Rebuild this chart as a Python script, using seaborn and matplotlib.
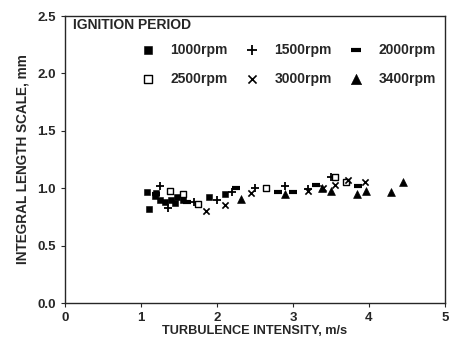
import pandas as pd
import matplotlib.pyplot as plt
import seaborn as sns

# Integral length scale vs turbulence intensity, ignition period
rpm_1000_x = [1.08, 1.10, 1.18, 1.25, 1.32, 1.40, 1.48, 1.55, 1.90, 2.10, 1.20, 1.45]
rpm_1000_y = [0.97, 0.82, 0.93, 0.90, 0.88, 0.90, 0.92, 0.90, 0.92, 0.95, 0.96, 0.87]
rpm_1500_x = [1.25, 1.35, 1.70, 2.00, 2.20, 2.50, 2.90, 3.50, 3.20]
rpm_1500_y = [1.02, 0.83, 0.88, 0.90, 0.97, 1.00, 1.02, 1.10, 0.99]
rpm_2000_x = [1.20, 1.60, 2.25, 2.80, 3.00, 3.30, 3.85]
rpm_2000_y = [0.95, 0.88, 1.00, 0.97, 0.97, 1.03, 1.02]
rpm_2500_x = [1.38, 1.55, 1.75, 2.65, 3.55, 3.70]
rpm_2500_y = [0.98, 0.95, 0.86, 1.00, 1.10, 1.05]
rpm_3000_x = [1.85, 2.10, 2.45, 3.20, 3.40, 3.55, 3.72, 3.95]
rpm_3000_y = [0.80, 0.85, 0.96, 0.98, 1.00, 1.03, 1.07, 1.05]
rpm_3400_x = [2.31, 2.90, 3.38, 3.50, 3.84, 3.96, 4.29, 4.45]
rpm_3400_y = [0.91, 0.95, 1.00, 0.98, 0.95, 0.98, 0.97, 1.05]

labels = ["1000rpm", "1500rpm", "2000rpm", "2500rpm", "3000rpm", "3400rpm"]
series = [(rpm_1000_x, rpm_1000_y), (rpm_1500_x, rpm_1500_y), (rpm_2000_x, rpm_2000_y),
          (rpm_2500_x, rpm_2500_y), (rpm_3000_x, rpm_3000_y), (rpm_3400_x, rpm_3400_y)]

sns.set_style("ticks")
plt.rcParams["font.family"] = ["Liberation Sans", "DejaVu Sans"]
plt.rcParams["font.weight"] = "bold"

# marker style per speed
styles = {
    "1000rpm": dict(marker="s", s=24, color="black", edgecolor="black"),
    "1500rpm": dict(marker="+", s=26, color="black", linewidth=1.3),
    "2000rpm": dict(marker="_", s=26, color="black", linewidth=3),
    "2500rpm": dict(marker="s", s=24, facecolor="white", edgecolor="black", linewidth=1),
    "3000rpm": dict(marker="x", s=20, color="black", linewidth=1.2),
    "3400rpm": dict(marker="^", s=32, color="black", edgecolor="black"),
}

fig = plt.figure(figsize=(4.5, 3.41), dpi=100)
ax = fig.add_axes([0.1444, 0.1114, 0.8444, 0.8416])

handles = {}
for lab, (xs, ys) in zip(labels, series):
    df = pd.DataFrame({"x": xs, "y": ys})
    sns.scatterplot(data=df, x="x", y="y", ax=ax, label=lab, legend=False, **styles[lab])
    handles[lab] = ax.collections[-1]

ax.set_xlim(0, 5)
ax.set_ylim(0, 2.5)
ax.set_xticks([0, 1, 2, 3, 4, 5])
ax.set_yticks([0.0, 0.5, 1.0, 1.5, 2.0, 2.5])
ax.set_yticklabels(["0.0", "0.5", "1.0", "1.5", "2.0", "2.5"])
ax.tick_params(labelsize=9.5, length=3, width=0.8)
for sp in ax.spines.values():
    sp.set_linewidth(1.0)

ax.set_xlabel("TURBULENCE INTENSITY, m/s", fontsize=9.2, fontweight="bold", labelpad=1)
ax.set_ylabel("INTEGRAL LENGTH SCALE, mm", fontsize=9.8, fontweight="bold", labelpad=6)

fig.text(73 / 450, 1 - 25 / 341, "IGNITION PERIOD", fontsize=10,
         fontweight="bold", va="center", ha="left")

# legend fills column-wise, so reorder to get two rows of three
order = ["1000rpm", "2500rpm", "1500rpm", "3000rpm", "2000rpm", "3400rpm"]
ax.legend([handles[k] for k in order], order, ncol=3, frameon=False,
          loc="upper left", bbox_to_anchor=(140 / 450, 1 - 43 / 341),
          bbox_transform=fig.transFigure, borderpad=0, borderaxespad=0,
          handletextpad=1.0, handlelength=1.2, columnspacing=1.15, labelspacing=1.05,
          markerscale=1.3, prop={"weight": "bold", "size": 10})

fig.savefig("out.png", dpi=100)
